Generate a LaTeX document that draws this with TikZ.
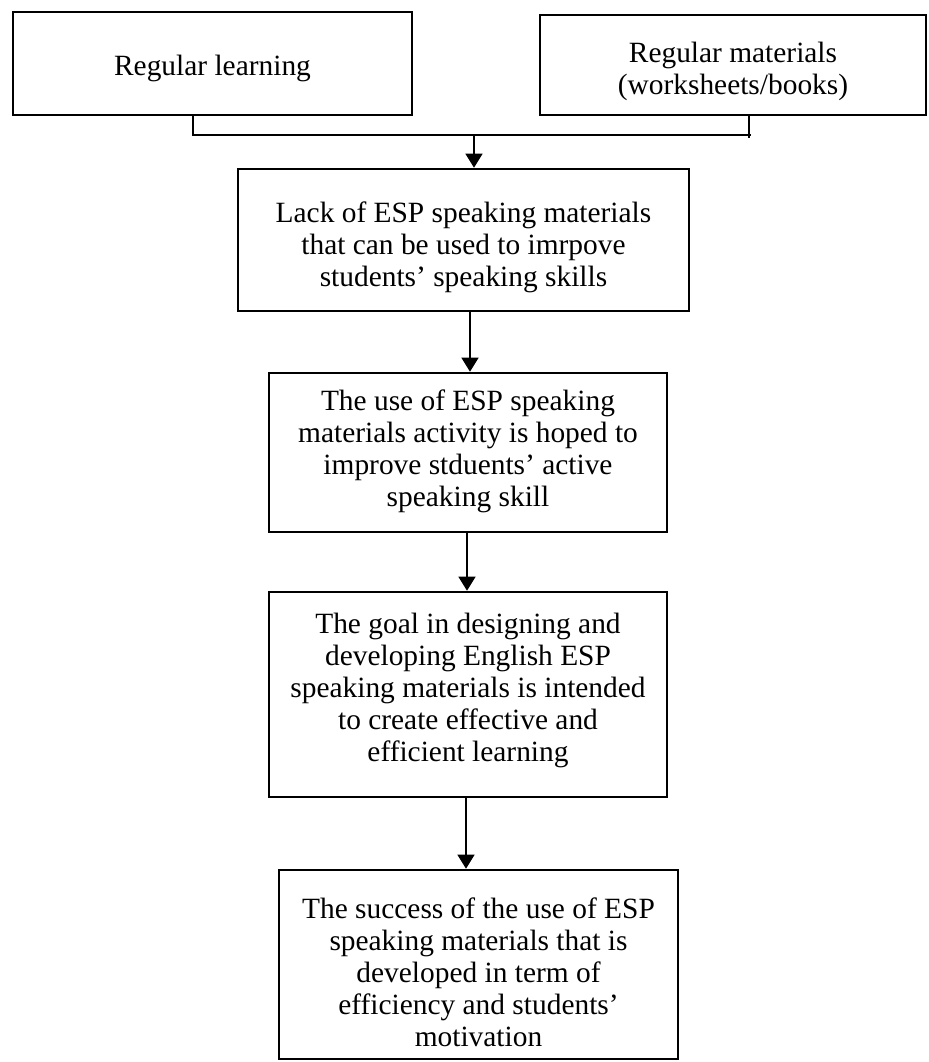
\documentclass[tikz,border=0pt]{standalone}
\usepackage{fontspec}
\setmainfont{Liberation Serif}
\usetikzlibrary{arrows.meta}
\begin{document}
\begin{tikzpicture}[x=0.5pt,y=-0.5pt,
  box/.style={draw=black,line width=1.3pt,rectangle,inner sep=0pt},
  txt/.style={inner sep=0pt,align=center,font=\fontsize{14.7}{16}\selectfont},
  link/.style={draw=black,line width=0.6pt},
  arr/.style={link,-{Triangle[length=7pt,width=8.5pt]}}]
\fill[white] (0,0) rectangle (928,1062);
\useasboundingbox (0,0) rectangle (928,1062);
% boxes
\node[box,minimum width=399*0.5pt,minimum height=103*0.5pt] (b1) at (212.5,63.5) {};
\node[box,minimum width=386*0.5pt,minimum height=100*0.5pt] (b2) at (733,65) {};
\node[box,minimum width=451*0.5pt,minimum height=142*0.5pt] (b3) at (463.5,240) {};
\node[box,minimum width=398*0.5pt,minimum height=159*0.5pt] (b4) at (468,452.5) {};
\node[box,minimum width=398*0.5pt,minimum height=205*0.5pt] (b5) at (468,694.5) {};
\node[box,minimum width=399*0.5pt,minimum height=189*0.5pt] (b6) at (478.5,964.5) {};
% texts
\node[txt] (t1) at (212.5,68) {Regular learning};
\node[txt] (t2) at (733,71.5) {Regular materials\\(worksheets/books)};
\node[txt] (t3) at (463.5,247) {Lack of ESP speaking materials\\that can be used to imrpove\\students’ speaking skills};
\node[txt] (t4) at (468,451) {The use of ESP speaking\\materials activity is hoped to\\improve stduents’ active\\speaking skill};
\node[txt] (t5) at (468,690) {The goal in designing and\\developing English ESP\\speaking materials is intended\\to create effective and\\efficient learning};
\node[txt] (t6) at (478.5,972) {The success of the use of ESP\\speaking materials that is\\developed in term of\\efficiency and students’\\motivation};
% junction
\coordinate (jl) at (193,135);
\coordinate (jr) at (751,135);
\coordinate (rv) at (749,138);
\coordinate (m1) at (474,135);
\coordinate (m2) at (470,0);
\coordinate (m3) at (467,0);
\coordinate (m4) at (466,0);
\draw[link] (b1.south -| jl) -- (jl) -- (jr);
\draw[link] (b2.south -| rv) -- (rv);
\draw[arr] (m1) -- (b3.north -| m1);
\draw[arr] (b3.south -| m2) -- (b4.north -| m2);
\draw[arr] (b4.south -| m3) -- (b5.north -| m3);
\draw[arr] (b5.south -| m4) -- (b6.north -| m4);
\end{tikzpicture}
\end{document}
